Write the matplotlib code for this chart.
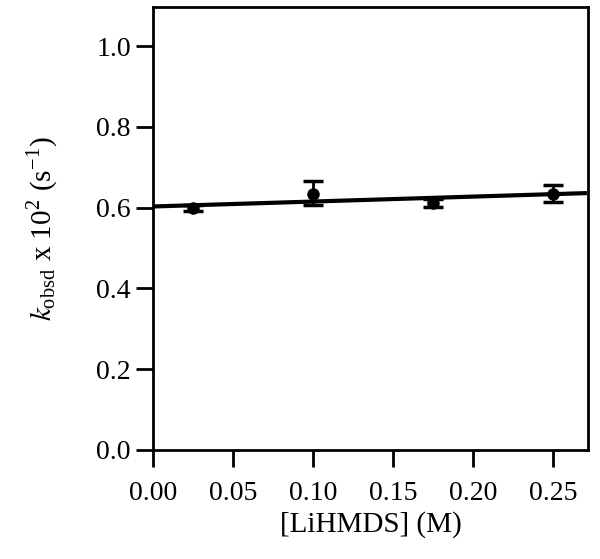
import numpy as np
import matplotlib
matplotlib.use("Agg")
from matplotlib import pyplot as plt

# data
conc = [0.025, 0.10, 0.175, 0.25]
kobs = [0.599, 0.635, 0.611, 0.635]
err_lo = [0.008, 0.028, 0.010, 0.020]
err_hi = [0.008, 0.030, 0.010, 0.022]

fit_x = [0.0, 0.27]
fit_y = [0.603, 0.636]

xticks = [0.00, 0.05, 0.10, 0.15, 0.20, 0.25]
yticks = [0.0, 0.2, 0.4, 0.6, 0.8, 1.0]

plt.rcParams['font.family'] = ['Liberation Serif', 'DejaVu Serif']
plt.rcParams['mathtext.fontset'] = 'stix'

fig = plt.figure(figsize=(6.0, 5.59), dpi=100)
ax = fig.add_axes([0.255, 0.195, 0.725, 0.7925])

ax.plot(fit_x, fit_y, color='black', lw=3, zorder=2)
ax.errorbar(conc, kobs, yerr=[err_lo, err_hi], fmt='o', color='black',
            ms=8, elinewidth=2, capsize=7, capthick=2.5, zorder=3)

ax.set_xlim(0, 0.272)
ax.set_ylim(0, 1.097)
ax.set_xticks(xticks)
ax.set_xticklabels(["%.2f" % v for v in xticks])
ax.set_yticks(yticks)
ax.set_yticklabels(["%.1f" % v for v in yticks])

for s in ax.spines.values():
    s.set_linewidth(2)
ax.tick_params(direction='out', length=12, width=2, labelsize=20, pad=4)
ax.tick_params(axis='x', pad=10)

ax.set_xlabel("[LiHMDS] (M)", fontsize=21, labelpad=4)
ax.set_ylabel(r"$k_\mathregular{obsd}$ x 10$^\mathregular{2}$ (s$^{\mathregular{-1}}$)",
              fontsize=21, labelpad=26)

plt.savefig("out.png", dpi=100)
